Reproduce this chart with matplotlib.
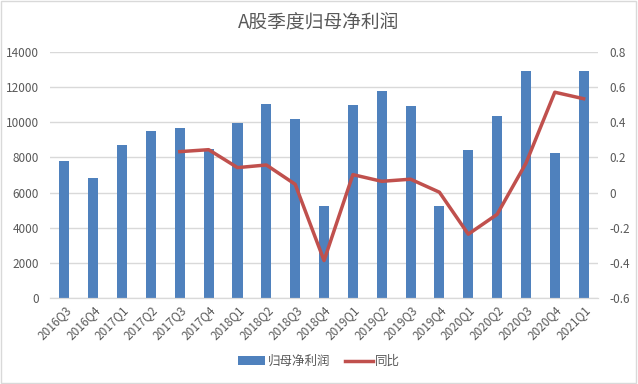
import matplotlib
matplotlib.use('Agg')
import matplotlib.pyplot as plt
from matplotlib.patches import Rectangle
import numpy as np

plt.rcParams['font.family'] = ['Noto Sans CJK SC', 'DejaVu Sans']

quarters = ['2016Q3', '2016Q4', '2017Q1', '2017Q2', '2017Q3', '2017Q4',
            '2018Q1', '2018Q2', '2018Q3', '2018Q4', '2019Q1', '2019Q2',
            '2019Q3', '2019Q4', '2020Q1', '2020Q2', '2020Q3', '2020Q4', '2021Q1']
profit = [7800, 6830, 8710, 9500, 9680, 8480, 9960, 11040, 10190, 5240,
          10990, 11780, 10930, 5240, 8420, 10360, 12920, 8250, 12920]
# YoY starts from 2017Q3
yoy_quarters = quarters[4:]
yoy = [0.233, 0.244, 0.142, 0.157, 0.047, -0.387, 0.102, 0.064, 0.076,
       0.002, -0.237, -0.124, 0.167, 0.571, 0.534]

grey = '#595959'

fig = plt.figure(figsize=(6.38, 3.84), dpi=100)
ax = fig.add_axes([0.0784, 0.224, 0.859, 0.6406])
ax2 = ax.twinx()

x = np.arange(len(quarters))
bars = ax.bar(x, profit, width=0.35, color='#4f81bd', label='归母净利润', zorder=2)
x2 = x[4:]
line, = ax2.plot(x2, yoy, color='#c0504d', lw=2.5, label='同比', zorder=3)

ax.set_xlim(-0.5, len(quarters) - 0.5)
ax.set_ylim(0, 14000)
ax.set_yticks(np.arange(0, 14001, 2000))
ax2.set_ylim(-0.6, 0.8)
ax2.set_yticks([-0.6, -0.4, -0.2, 0, 0.2, 0.4, 0.6, 0.8])
ax2.set_yticklabels(['-0.6', '-0.4', '-0.2', '0', '0.2', '0.4', '0.6', '0.8'])

ax.set_xticks(x)
ax.set_xticklabels(quarters, rotation=45, ha='right', rotation_mode='anchor')

ax.grid(axis='y', color='#d9d9d9', lw=1, zorder=0)
ax.set_axisbelow(True)
for a in (ax, ax2):
    for s in ('top', 'left', 'right'):
        a.spines[s].set_visible(False)
    a.spines['bottom'].set_color('#d9d9d9')
    a.tick_params(length=0, colors=grey, labelsize=8.5)
ax.tick_params(axis='x', pad=4)
ax2.tick_params(axis='y', pad=8)
ax.tick_params(axis='y', pad=8)

fig.text(0.5, 0.94, 'A股季度归母净利润', ha='center', va='center', fontsize=13.5, color=grey)

fig.legend([bars, line], ['归母净利润', '同比'], loc='center', bbox_to_anchor=(0.5, 0.058),
           ncol=2, frameon=False, fontsize=9, labelcolor=grey, handlelength=2.2,
           handletextpad=0.2, columnspacing=1.2)

fig.patches.append(Rectangle((0.002, 0.003), 0.995, 0.994, transform=fig.transFigure,
                             fill=False, edgecolor='#d9d9d9', lw=1))

fig.savefig('out.png', dpi=100)
